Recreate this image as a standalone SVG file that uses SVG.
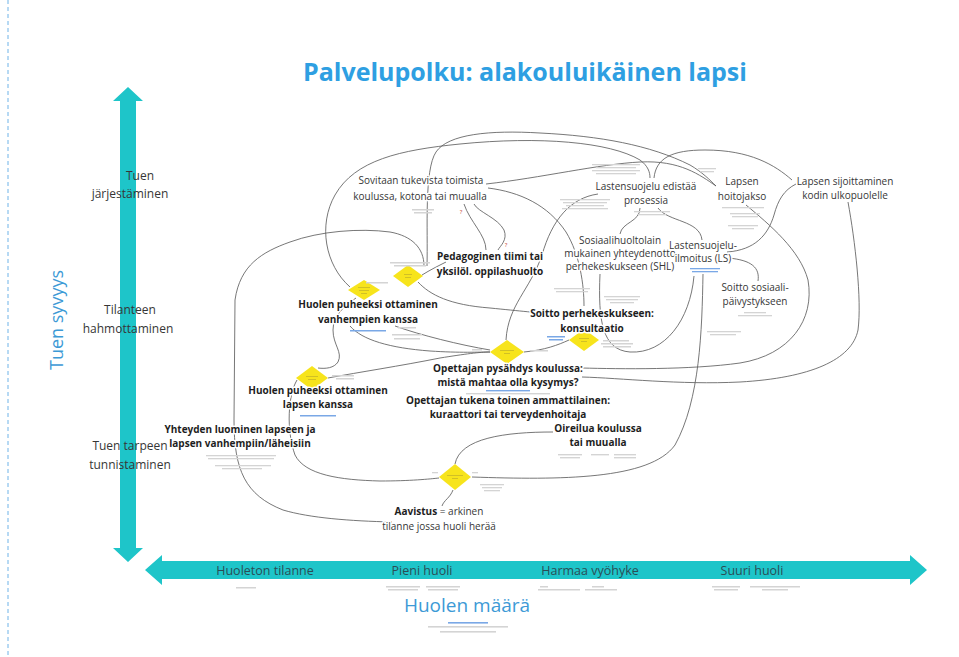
<svg xmlns="http://www.w3.org/2000/svg" width="959" height="657" viewBox="0 0 959 657">
<style>
  text { font-family: "Open Sans", "Liberation Sans", sans-serif; }
  .t { font-size: 10px; fill: #363636; text-anchor: middle; stroke: #fff; stroke-width: 3px; paint-order: stroke; stroke-linejoin: round; }
  .b { font-size: 10px; font-weight: 700; fill: #1e1e1e; text-anchor: middle; stroke: #fff; stroke-width: 3px; paint-order: stroke; stroke-linejoin: round; }
  .ax { font-size: 12px; fill: #363636; text-anchor: middle; }
  .hx { font-size: 12.5px; fill: #2b4d55; text-anchor: middle; }
  .big { fill: #3d9ad6; text-anchor: middle; }
  .q { font-size: 6px; fill: #c0392b; text-anchor: middle; }
  .c { fill: none; stroke: #5e5e5e; stroke-width: 0.85; }
  .d { fill: #f7e41c; }
  .dt { fill: #a89a30; opacity: 0.6; }
  .n { fill: #d4d4d4; }
  .l { fill: #7aa8e6; }
  .arr { fill: #1ec5c9; }
</style>

<line x1="8" y1="0" x2="8" y2="657" stroke="#6fb3e8" stroke-width="1" stroke-dasharray="4 3"/>

<text x="525" y="81" text-anchor="middle" font-size="25" font-weight="700" fill="#2e9fe2" style="font-family:'Open Sans','Liberation Sans',sans-serif">Palvelupolku: alakouluikäinen lapsi</text>

<g id="axis-vertical">
  <polygon class="arr" points="128,87 143,101 136,101 136,548 143,548 128,562 113,548 120,548 120,101 113,101"/>
  <text class="ax" x="140" y="180">Tuen</text>
  <text class="ax" x="130" y="198">järjestäminen</text>
  <text class="ax" x="130" y="314">Tilanteen</text>
  <text class="ax" x="128" y="333">hahmottaminen</text>
  <text class="ax" x="130" y="450">Tuen tarpeen</text>
  <text class="ax" x="130" y="469">tunnistaminen</text>
  <text class="big" font-size="18" transform="translate(63,320) rotate(-90)">Tuen syvyys</text>
</g>

<g id="axis-horizontal">
  <polygon class="arr" points="145,570 162,555 162,561 910,561 910,555 927,570 910,585 910,579 162,579 162,585"/>
  <text class="hx" x="265" y="575">Huoleton tilanne</text>
  <text class="hx" x="422" y="575">Pieni huoli</text>
  <text class="hx" x="590" y="575">Harmaa vyöhyke</text>
  <text class="hx" x="752" y="575">Suuri huoli</text>
  <rect class="n" x="236" y="587" width="20" height="1.5"/>
  <rect class="n" x="386" y="586" width="34" height="1.5"/><rect class="n" x="388" y="589" width="30" height="1.5"/>
  <rect class="n" x="426" y="586" width="34" height="1.5"/><rect class="n" x="428" y="589" width="30" height="1.5"/>
  <rect class="n" x="540" y="586" width="8" height="1.5"/><rect class="n" x="538" y="589" width="42" height="1.5"/>
  <rect class="n" x="592" y="586" width="12" height="1.5"/><rect class="n" x="585" y="589" width="32" height="1.5"/>
  <rect class="n" x="712" y="586" width="28" height="1.5"/><rect class="n" x="714" y="589" width="24" height="1.5"/>
  <rect class="n" x="750" y="586" width="50" height="1.5"/><rect class="n" x="762" y="589" width="26" height="1.5"/>
  <text class="big" font-size="19" x="467" y="612">Huolen määrä</text>
  <rect class="l" x="448" y="622" width="40" height="1.6"/>
  <rect class="n" x="428" y="626" width="80" height="1.6"/>
  <rect class="n" x="440" y="631" width="56" height="1.6"/>
</g>

<g id="connectors">
  <path class="c" d="M486,184 C540,178 600,164 640,162 C680,160 700,175 716,186"/>
  <path class="c" d="M427,266 C428,230 424,170 436,152 C448,134 490,130 540,133 C600,136 650,145 690,165 C702,172 710,180 716,186"/>
  <path class="c" d="M350,287 C325,265 318,225 335,195 C355,160 400,150 460,144 C540,136 610,142 640,160 C648,166 650,172 650,178"/>
  <path class="c" d="M654,178 C656,158 672,150 705,150 C750,150 775,165 792,180"/>
  <path class="c" d="M727,252 C755,250 768,235 774,215 C778,200 784,190 796,184"/>
  <path class="c" d="M848,202 C855,240 862,300 858,330 C852,360 810,378 740,382 C680,385 620,378 582,377"/>
  <path class="c" d="M746,205 C770,225 800,250 808,280 C815,320 790,355 740,363 C690,370 620,369 582,368"/>
  <path class="c" d="M703,274 C702,330 700,400 675,445 C650,480 560,480 472,477"/>
  <path class="c" d="M728,258 C752,260 760,268 758,281"/>
  <path class="c" d="M640,208 C640,222 622,222 620,234"/>
  <path class="c" d="M658,208 C668,222 700,220 702,240"/>
  <path class="c" d="M600,274 C598,320 602,350 630,352 C665,354 690,320 694,276"/>
  <path class="c" d="M598,194 C570,198 552,220 542,255 C530,290 508,305 506,340"/>
  <path class="c" d="M488,188 C520,192 548,205 566,232 C580,255 584,285 584,306"/>
  <path class="c" d="M464,204 C470,222 486,235 486,250"/>
  <path class="c" d="M474,204 C478,212 498,218 504,230 C508,240 500,246 498,250"/>
  <path class="c" d="M422,275 C430,270 438,266 446,262"/>
  <path class="c" d="M418,282 C430,295 450,305 490,308 C520,311 540,313 552,314"/>
  <path class="c" d="M424,266 C424,248 412,236 390,232 C360,228 320,231 290,242 C262,252 240,265 235,300 L234,420 C234,470 245,495 283,510 C310,518 350,521 392,522"/>
  <path class="c" d="M356,298 C344,306 333,316 333,330 C333,345 343,352 338,362 C334,368 326,369 318,368"/>
  <path class="c" d="M328,378 C360,372 400,366 440,358 C465,354 480,352 490,352"/>
  <path class="c" d="M297,380 C288,395 286,430 295,455 C305,475 340,480 380,481 C410,481 430,479 439,478"/>
  <path class="c" d="M350,326 C362,340 390,348 430,351 C460,353 480,352 490,352"/>
  <path class="c" d="M395,326 C420,335 460,345 490,350"/>
  <path class="c" d="M524,352 C545,350 558,345 569,340"/>
  <path class="c" d="M553,432 C505,432 460,438 455,464"/>
  <path class="c" d="M453,490 C450,498 444,500 442,506"/>
</g>

<g id="d1"><polygon class="d" points="408,265 423,276 408,287 393,276"/><rect class="dt" x="404" y="274" width="8" height="0.8"/><rect class="dt" x="405" y="277" width="6" height="0.8"/></g>
<g id="d2"><polygon class="d" points="364,280 380,290 364,300 348,290"/><rect class="dt" x="358" y="287" width="12" height="0.8"/><rect class="dt" x="359" y="290" width="10" height="0.8"/><rect class="dt" x="361" y="293" width="6" height="0.8"/></g>
<g id="d3"><polygon class="d" points="584,329 599,340 584,351 569,340"/><rect class="dt" x="579" y="338" width="10" height="0.8"/><rect class="dt" x="581" y="341" width="6" height="0.8"/></g>
<g id="d4"><polygon class="d" points="507,340 524,352 507,364 490,352"/><rect class="dt" x="500" y="350" width="14" height="0.8"/><rect class="dt" x="504" y="353" width="6" height="0.8"/></g>
<g id="d5"><polygon class="d" points="312,366 328,378 312,390 296,378"/><rect class="dt" x="306" y="376" width="12" height="0.8"/><rect class="dt" x="308" y="379" width="8" height="0.8"/></g>
<g id="d6"><polygon class="d" points="455,464 471,477 455,490 439,477"/><rect class="dt" x="447" y="475" width="16" height="0.8"/><rect class="dt" x="452" y="478" width="6" height="0.8"/></g>

<g id="n-sovitaan">
  <text class="t" x="421" y="184">Sovitaan tukevista toimista</text>
  <text class="t" x="420" y="200">koulussa, kotona tai muualla</text>
  <rect class="n" x="412" y="209" width="22" height="1.5"/><rect class="n" x="414" y="212" width="18" height="1.5"/>
  <text class="q" x="461" y="214">?</text>
</g>
<g id="n-pedagoginen">
  <text class="b" x="490" y="260">Pedagoginen tiimi tai</text>
  <text class="b" x="490" y="275">yksilöl. oppilashuolto</text>
  <text class="q" x="506" y="247">?</text>
</g>
<g id="n-huolen-vanhempien">
  <text class="b" x="368" y="308">Huolen puheeksi ottaminen</text>
  <text class="b" x="368" y="323">vanhempien kanssa</text>
  <rect class="l" x="350" y="330" width="36" height="1.5"/>
  <rect class="n" x="390" y="262" width="40" height="1.5"/><rect class="n" x="394" y="265" width="32" height="1.5"/>
  <rect class="n" x="366" y="282" width="22" height="1.5"/>
  <rect class="n" x="398" y="327" width="18" height="1.5"/><rect class="n" x="392" y="334" width="30" height="1.5"/><rect class="n" x="394" y="338" width="26" height="1.5"/>
</g>
<g id="n-soitto-perhekeskus">
  <text class="b" x="592" y="317">Soitto perhekeskukseen:</text>
  <text class="b" x="592" y="332">konsultaatio</text>
  <rect class="l" x="547" y="336" width="18" height="1.5"/><rect class="l" x="549" y="339" width="14" height="1.5"/>
  <rect class="n" x="603" y="340" width="26" height="1.5"/><rect class="n" x="601" y="343" width="32" height="1.5"/><rect class="n" x="603" y="346" width="28" height="1.5"/>
</g>
<g id="n-opettajan-pysahdys">
  <text class="b" x="508" y="372">Opettajan pysähdys koulussa:</text>
  <text class="b" x="508" y="386">mistä mahtaa olla kysymys?</text>
  <rect class="n" x="472" y="349" width="10" height="1.5"/><rect class="n" x="530" y="350" width="18" height="1.5"/>
  <rect class="l" x="486" y="390" width="44" height="1.4"/>
  <rect class="n" x="466" y="393" width="84" height="1.4"/>
</g>
<g id="n-opettajan-tukena">
  <text class="b" x="508" y="404">Opettajan tukena toinen ammattilainen:</text>
  <text class="b" x="508" y="418">kuraattori tai terveydenhoitaja</text>
</g>
<g id="n-huolen-lapsen">
  <text class="b" x="318" y="394">Huolen puheeksi ottaminen</text>
  <text class="b" x="318" y="408">lapsen kanssa</text>
  <rect class="l" x="300" y="415" width="36" height="1.5"/>
  <rect class="n" x="332" y="375" width="22" height="1.5"/><rect class="n" x="336" y="378" width="18" height="1.5"/>
</g>
<g id="n-yhteyden">
  <text class="b" x="240" y="433">Yhteyden luominen lapseen ja</text>
  <text class="b" x="240" y="447">lapsen vanhempiin/läheisiin</text>
  <rect class="n" x="206" y="455" width="70" height="1.3"/><rect class="n" x="208" y="458" width="66" height="1.3"/>
  <rect class="n" x="215" y="465" width="56" height="1.3"/><rect class="n" x="222" y="468" width="40" height="1.3"/>
</g>
<g id="n-oireilua">
  <text class="b" x="598" y="432">Oireilua koulussa</text>
  <text class="b" x="598" y="446">tai muualla</text>
  <rect class="n" x="558" y="454" width="24" height="1.4"/><rect class="n" x="591" y="454" width="18" height="1.4"/><rect class="n" x="614" y="454" width="22" height="1.4"/>
  <rect class="n" x="560" y="457" width="20" height="1.4"/><rect class="n" x="614" y="457" width="22" height="1.4"/>
</g>
<g id="n-aavistus">
  <text class="t" x="439" y="515"><tspan font-weight="700" fill="#1e1e1e">Aavistus</tspan> = arkinen</text>
  <text class="t" x="439" y="530">tilanne jossa huoli herää</text>
  <rect class="n" x="432" y="472" width="6" height="1.3"/><rect class="n" x="472" y="472" width="6" height="1.3"/>
  <rect class="n" x="480" y="484" width="24" height="1.3"/><rect class="n" x="482" y="487" width="20" height="1.3"/><rect class="n" x="484" y="490" width="16" height="1.3"/>
</g>
<g id="n-ls-edistaa">
  <text class="t" x="646" y="190">Lastensuojelu edistää</text>
  <text class="t" x="646" y="204">prosessia</text>
  <rect class="n" x="592" y="164" width="48" height="1.3"/><rect class="n" x="596" y="167" width="40" height="1.3"/><rect class="n" x="592" y="170" width="48" height="1.3"/><rect class="n" x="596" y="173" width="40" height="1.3"/>
  <rect class="n" x="560" y="199" width="50" height="1.3"/><rect class="n" x="563" y="202" width="44" height="1.3"/><rect class="n" x="566" y="205" width="38" height="1.3"/><rect class="n" x="562" y="208" width="46" height="1.3"/>
  <rect class="n" x="634" y="211" width="36" height="1.3"/><rect class="n" x="638" y="214" width="28" height="1.3"/>
</g>
<g id="n-hoitojakso">
  <text class="t" x="742" y="185">Lapsen</text>
  <text class="t" x="742" y="200">hoitojakso</text>
  <rect class="n" x="722" y="207" width="42" height="1.3"/>
  <rect class="n" x="698" y="168" width="18" height="1.3"/><rect class="n" x="700" y="171" width="14" height="1.3"/>
  <rect class="n" x="730" y="213" width="30" height="1.3"/><rect class="n" x="732" y="216" width="26" height="1.3"/>
  <rect class="n" x="728" y="225" width="30" height="1.3"/><rect class="n" x="732" y="228" width="22" height="1.3"/>
</g>
<g id="n-sijoittaminen">
  <text class="t" x="845" y="185">Lapsen sijoittaminen</text>
  <text class="t" x="845" y="199">kodin ulkopuolelle</text>
</g>
<g id="n-shl">
  <text class="t" x="620" y="244">Sosiaalihuoltolain</text>
  <text class="t" x="620" y="257">mukainen  yhteydenotto</text>
  <text class="t" x="620" y="270">perhekeskukseen (SHL)</text>
  <rect class="n" x="554" y="288" width="36" height="1.3"/><rect class="n" x="556" y="291" width="32" height="1.3"/>
  <rect class="n" x="604" y="296" width="36" height="1.3"/><rect class="n" x="606" y="299" width="32" height="1.3"/><rect class="n" x="610" y="302" width="24" height="1.3"/>
</g>
<g id="n-ls-ilmoitus">
  <text class="t" x="703" y="249">Lastensuojelu-</text>
  <text class="t" x="703" y="262">ilmoitus (LS)</text>
  <rect class="l" x="690" y="268" width="30" height="1.3"/><rect class="l" x="692" y="271" width="26" height="1.3"/>
</g>
<g id="n-soitto-sosiaali">
  <text class="t" x="755" y="291">Soitto sosiaali-</text>
  <text class="t" x="755" y="305">päivystykseen</text>
  <rect class="n" x="744" y="312" width="22" height="1.3"/><rect class="n" x="738" y="315" width="34" height="1.3"/>
  <rect class="n" x="707" y="331" width="34" height="1.3"/><rect class="n" x="710" y="334" width="26" height="1.3"/>
</g>
</svg>
